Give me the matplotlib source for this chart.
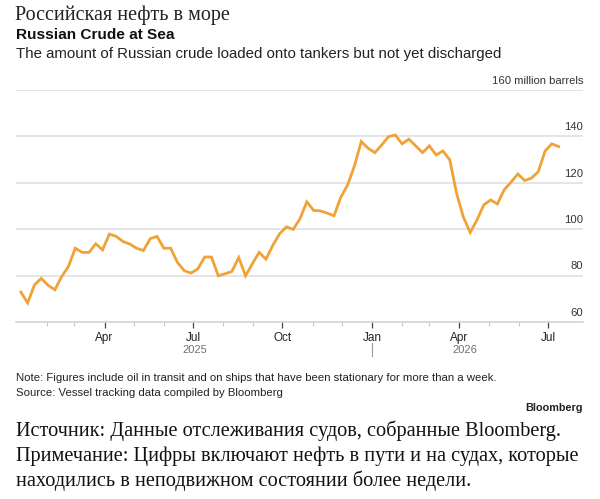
import matplotlib
matplotlib.use("Agg")
import matplotlib.pyplot as plt
import matplotlib.dates as mdates
import matplotlib.transforms as mtransforms
import pandas as pd

# weekly readings, million barrels
values = [72.9, 68.2, 76.0, 78.8, 75.8, 73.9, 79.6, 84.0, 91.8, 90.0,
          90.0, 93.7, 91.1, 97.9, 96.9, 94.7, 93.6, 91.8, 90.8, 95.9,
          96.9, 91.8, 91.8, 85.7, 82.1, 81.1, 82.9, 88.0, 88.0, 79.9,
          80.8, 81.8, 87.8, 79.9, 85.1, 90.0, 87.1, 93.0, 98.0, 101.0,
          99.9, 104.5, 111.8, 108.1, 107.9, 106.9, 105.8, 113.8, 119.1, 127.3,
          137.8, 134.9, 133.0, 136.3, 139.9, 140.6, 136.8, 138.8, 135.9, 133.0,
          135.9, 132.0, 133.7, 129.9, 115.5, 105.2, 98.6, 104.0, 110.5, 112.6,
          110.9, 117.0, 120.3, 123.8, 121.0, 122.0, 124.8, 133.7, 136.8, 135.6]
dates = pd.date_range("2025-01-05", periods=len(values), freq="7D")

y_ticks = [60, 80, 100, 120, 140, 160]
y_labels = ["60", "80", "100", "120", "140", "160 million barrels"]
major_ticks = ["2025-04-01", "2025-07-01", "2025-10-01", "2026-01-01", "2026-04-01", "2026-07-01"]
major_labels = ["Apr", "Jul", "Oct", "Jan", "Apr", "Jul"]
minor_ticks = ["2025-02-01", "2025-03-01", "2025-05-01", "2025-06-01", "2025-08-01", "2025-09-01",
               "2025-11-01", "2025-12-01", "2026-02-01", "2026-03-01", "2026-05-01", "2026-06-01"]
years = ["2025", "2026"]
year_centers = ["2025-07-03", "2026-04-07"]

W, H = 600, 499
SANS = "Liberation Sans"
SERIF = "Liberation Serif"

def fx(x):
    return x / W

def fy(y):
    return 1 - y / H

fig = plt.figure(figsize=(6, 4.99), dpi=100)
ax = fig.add_axes([fx(16), fy(322), fx(583) - fx(16), fy(90) - fy(322)])

ax.plot(dates, values, color="#f0a236", lw=2.0, solid_joinstyle="miter", zorder=3)

ax.set_xlim(pd.Timestamp("2024-12-31"), pd.Timestamp("2026-08-06"))
ax.set_ylim(60, 160)

for s in ["top", "right", "left"]:
    ax.spines[s].set_visible(False)
ax.spines["bottom"].set_color("#d0d0d0")
ax.spines["bottom"].set_linewidth(1.1)

for v in y_ticks[1:]:
    ax.axhline(v, color="#dedede", lw=1.1, zorder=1)

ax.set_yticks([])
trans = mtransforms.blended_transform_factory(ax.transAxes, ax.transData)
nudge = mtransforms.ScaledTranslation(0, 3 / 72, fig.dpi_scale_trans)
for v, lab in zip(y_ticks, y_labels):
    ax.text(1.0, v, lab, transform=trans + nudge, ha="right", va="bottom",
            fontsize=8.1, family=SANS, color="#333333")

ax.set_xticks([pd.Timestamp(d) for d in major_ticks])
ax.set_xticklabels(major_labels, fontsize=8.5, family=SANS, color="#222222")
ax.set_xticks([pd.Timestamp(d) for d in minor_ticks], minor=True)
ax.tick_params(axis="x", which="major", length=4, width=0.9, color="#444444", pad=3)
ax.tick_params(axis="x", which="minor", length=3, width=0.8, color="#c8c8c8")

xtrans = mtransforms.blended_transform_factory(ax.transData, ax.transAxes)
for yr, c in zip(years, year_centers):
    ax.text(pd.Timestamp(c), -0.122, yr, transform=xtrans, ha="center", va="center",
            fontsize=8.0, family=SANS, color="#707070")
jan = mdates.date2num(pd.Timestamp("2026-01-01"))
ax.plot([jan, jan], [-0.09, -0.145], transform=xtrans, color="#999999", lw=0.8, clip_on=False)

# headings
fig.text(fx(15), fy(15), "Российская нефть в море", family=SERIF, fontsize=14.5,
         color="#222222", va="center", ha="left")
fig.text(fx(16), fy(35), "Russian Crude at Sea", family=SANS, fontsize=11.1,
         fontweight="bold", color="#111111", va="center", ha="left")
fig.text(fx(16), fy(54), "The amount of Russian crude loaded onto tankers but not yet discharged",
         family=SANS, fontsize=10.8, color="#222222", va="center", ha="left")

# notes
fig.text(fx(16), fy(378), "Note: Figures include oil in transit and on ships that have been stationary for more than a week.",
         family=SANS, fontsize=8.2, color="#222222", va="center", ha="left")
fig.text(fx(16), fy(393), "Source: Vessel tracking data compiled by Bloomberg",
         family=SANS, fontsize=8.2, color="#222222", va="center", ha="left")
fig.text(fx(583), fy(408), "Bloomberg", family=SANS, fontsize=7.8, fontweight="bold",
         color="#222222", va="center", ha="right")

ru_lines = ["Источник: Данные отслеживания судов, собранные Bloomberg.",
            "Примечание: Цифры включают нефть в пути и на судах, которые",
            "находились в неподвижном состоянии более недели."]
for i, line in enumerate(ru_lines):
    fig.text(fx(16), fy(431 + 25 * i), line, family=SERIF, fontsize=14.6,
             color="#111111", va="center", ha="left")

fig.savefig("out.png", dpi=100, facecolor="white")
